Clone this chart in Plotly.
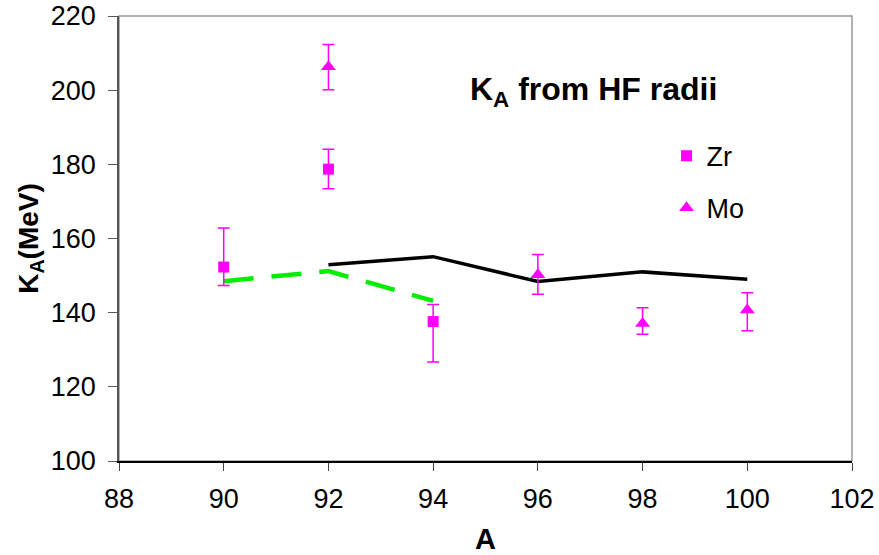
import plotly.graph_objects as go

# Data
zr_a = [90, 92, 94]
zr_k = [152.3, 178.7, 137.6]
zr_err_plus = [10.5, 5.4, 4.6]
zr_err_minus = [5.0, 5.3, 10.9]

mo_a = [92, 96, 98, 100]
mo_k = [206.3, 150.2, 137.1, 140.7]
mo_err_plus = [6.0, 5.5, 4.2, 4.7]
mo_err_minus = [6.2, 5.2, 2.9, 5.6]

black_a = [92, 94, 96, 98, 100]
black_k = [152.9, 155.1, 148.4, 151.0, 149.0]

green_a = [90, 92, 94]
green_k = [148.5, 151.2, 143.2]

x_ticks = [88, 90, 92, 94, 96, 98, 100, 102]
y_ticks = [100, 120, 140, 160, 180, 200, 220]

MAG = "#ff00ff"
FONT = "Liberation Sans, Arial, sans-serif"

fig = go.Figure()

fig.add_trace(go.Scatter(
    x=green_a, y=green_k, mode="lines", showlegend=False,
    line=dict(color="#00ee00", width=4.5, dash="30px,18px"),
))
fig.add_trace(go.Scatter(
    x=black_a, y=black_k, mode="lines", showlegend=False,
    line=dict(color="black", width=3.5),
))
fig.add_trace(go.Scatter(
    x=zr_a, y=zr_k, mode="markers", name="Zr", legendgroup="zr",
    marker=dict(symbol="square", size=11, color=MAG),
    error_y=dict(type="data", symmetric=False, array=zr_err_plus,
                 arrayminus=zr_err_minus, color=MAG, thickness=1.5, width=6),
))
fig.add_trace(go.Scatter(
    x=mo_a, y=mo_k, mode="markers", name="Mo", legendgroup="mo",
    marker=dict(symbol="triangle-up", size=13, color=MAG),
    error_y=dict(type="data", symmetric=False, array=mo_err_plus,
                 arrayminus=mo_err_minus, color=MAG, thickness=1.5, width=6),
))

# gray plot-area frame
fig.add_shape(type="rect", xref="paper", yref="paper", x0=0, x1=1, y0=0, y1=1,
              line=dict(color="#999999", width=1.5), layer="below")

fig.add_annotation(
    text="<b>K<sub>A</sub> from HF radii</b>", xref="paper", yref="paper",
    x=0.648, y=0.83, xanchor="center", yanchor="middle", showarrow=False,
    font=dict(family=FONT, size=32, color="black"),
)

fig.update_layout(
    width=879, height=555,
    margin=dict(l=119, r=27, t=16, b=94, autoexpand=False),
    paper_bgcolor="white", plot_bgcolor="white",
    font=dict(family=FONT, color="black"),
    showlegend=True,
    legend=dict(x=0.747, y=0.74, xanchor="left", yanchor="top",
                bgcolor="rgba(0,0,0,0)", font=dict(size=27, family=FONT),
                tracegroupgap=14, itemwidth=30),
    xaxis=dict(
        range=[88, 102], tickvals=x_ticks, ticktext=[str(v) for v in x_ticks],
        showgrid=False, zeroline=False, showline=True, linecolor="black", linewidth=1.5,
        ticks="outside", ticklen=8, tickcolor="#444444", tickwidth=1,
        tickfont=dict(size=27, family=FONT), automargin=False, ticklabelstandoff=5,
        title=dict(text="<b>A</b>", font=dict(size=29, family=FONT), standoff=16),
    ),
    yaxis=dict(
        range=[100, 220], tickvals=y_ticks, ticktext=[str(v) for v in y_ticks],
        showgrid=False, zeroline=False, showline=True, linecolor="#555555", linewidth=1.5,
        ticks="outside", ticklen=9, tickcolor="#555555", tickwidth=1,
        tickfont=dict(size=27, family=FONT), automargin=False, ticklabelstandoff=7,
        title=dict(text="<b>K<sub>A</sub>(MeV)</b>", font=dict(size=28, family=FONT), standoff=4),
    ),
)

fig.write_html("out.html")
